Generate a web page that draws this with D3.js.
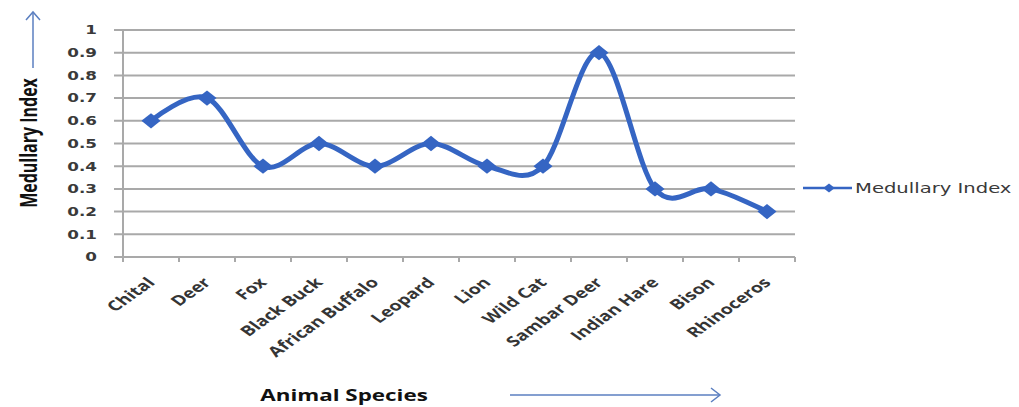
<!DOCTYPE html>
<html><head><meta charset="utf-8">
<script src="https://cdn.jsdelivr.net/npm/d3@7"></script>
<style>body{margin:0;background:#fff;} svg{display:block;}</style>
</head><body>
<svg id="c" width="1019" height="407"></svg>
<script>
const categories = ["Chital","Deer","Fox","Black Buck","African Buffalo","Leopard","Lion","Wild Cat","Sambar Deer","Indian Hare","Bison","Rhinoceros"];
const medullaryIndex = [0.6,0.7,0.4,0.5,0.4,0.5,0.4,0.4,0.9,0.3,0.3,0.2];
const yTicks = [0,0.1,0.2,0.3,0.4,0.5,0.6,0.7,0.8,0.9,1];
const seriesName = "Medullary Index";
const yTitle = "Medullary Index";
const xTitle = "Animal Species";

(function(){
const svg = d3.select("#c");
const pl = 123, pr = 795, pt = 30, pb = 257;
const SX = 1.4; // horizontal stretch of text seen in the reference
const x = d3.scaleBand().domain(categories).range([pl, pr]);
const y = d3.scaleLinear().domain([0,1]).range([pb, pt]);
const lineColor = "#3565c3";
const gridColor = "#a9a9a9";
const textColor = "#353535";

svg.append("g").selectAll("line").data(yTicks).join("line")
  .attr("x1", pl - 9).attr("x2", pr).attr("y1", d=>y(d)).attr("y2", d=>y(d))
  .attr("stroke", gridColor).attr("stroke-width", 2);

svg.append("g").selectAll("text").data(yTicks).join("text")
  .attr("transform", d=>`translate(97,${y(d)}) scale(${SX},1)`)
  .attr("dy","0.36em").attr("text-anchor","end")
  .attr("font-family","DejaVu Sans").attr("font-weight","bold").attr("font-size",12)
  .attr("fill", "#3a3a3a").text(d=>d3.format("~g")(d));

svg.append("line").attr("x1",pl).attr("x2",pl).attr("y1",pt).attr("y2",pb+5)
  .attr("stroke",gridColor).attr("stroke-width",2);

const xt = categories.map((c,i)=>x.range()[0] + i*x.step()).concat([pr]);
svg.append("g").selectAll("line").data(xt).join("line")
  .attr("x1",d=>d).attr("x2",d=>d).attr("y1",pb).attr("y2",pb+5)
  .attr("stroke",gridColor).attr("stroke-width",2);

svg.append("g").selectAll("text").data(categories).join("text")
  .attr("transform", d=>`translate(${x(d)+x.bandwidth()/2},${pb+23}) scale(${SX},1) rotate(-45)`)
  .attr("text-anchor","end").attr("dy","0.35em")
  .attr("font-family","Open Sans").attr("font-weight","bold").attr("font-size",14)
  .attr("fill", textColor).text(d=>d);

const cx = d => x(d) + x.bandwidth()/2;
const line = d3.line().x((d,i)=>cx(categories[i])).y(d=>y(d)).curve(d3.curveCardinal.tension(0));
svg.append("path").datum(medullaryIndex).attr("d", line)
  .attr("fill","none").attr("stroke",lineColor).attr("stroke-width",5).attr("stroke-linejoin","round");

svg.append("g").selectAll("path").data(medullaryIndex).join("path")
  .attr("transform",(d,i)=>`translate(${cx(categories[i])},${y(d)}) scale(1.25,1)`)
  .attr("d", d3.symbol().type(d3.symbolDiamond2).size(150)).attr("fill",lineColor);

svg.append("line").attr("x1",803).attr("x2",852).attr("y1",188).attr("y2",188)
  .attr("stroke",lineColor).attr("stroke-width",2.5);
svg.append("path").attr("transform","translate(829,188) scale(1.3,1)").attr("d", d3.symbol().type(d3.symbolDiamond2).size(50)).attr("fill",lineColor);
svg.append("text").attr("transform",`translate(855,188) scale(${SX},1)`).attr("dy","0.35em")
  .attr("font-family","DejaVu Sans").attr("font-size",14)
  .attr("fill","#3a3a3a").text(seriesName);

svg.append("text").attr("transform",`translate(37,143) scale(${SX},1) rotate(-90)`).attr("text-anchor","middle")
  .attr("font-family","Open Sans").attr("font-weight","bold").attr("font-size",16)
  .attr("fill","#111").text(yTitle);
svg.append("text").attr("transform",`translate(344,401) scale(${SX},1)`).attr("text-anchor","middle")
  .attr("font-family","Open Sans").attr("font-weight","bold").attr("font-size",16)
  .attr("fill","#111").text(xTitle);

const arrowColor = "#5b7fc0";
svg.append("line").attr("x1",33).attr("x2",33).attr("y1",68).attr("y2",12).attr("stroke",arrowColor).attr("stroke-width",1.5);
svg.append("path").attr("d","M26,20 L33,12 L40,20").attr("fill","none").attr("stroke",arrowColor).attr("stroke-width",1.5);
svg.append("line").attr("x1",510).attr("x2",720).attr("y1",395).attr("y2",395).attr("stroke",arrowColor).attr("stroke-width",1.5);
svg.append("path").attr("d","M711,388 L720,395 L711,402").attr("fill","none").attr("stroke",arrowColor).attr("stroke-width",1.5);
})();
</script>
</body></html>
